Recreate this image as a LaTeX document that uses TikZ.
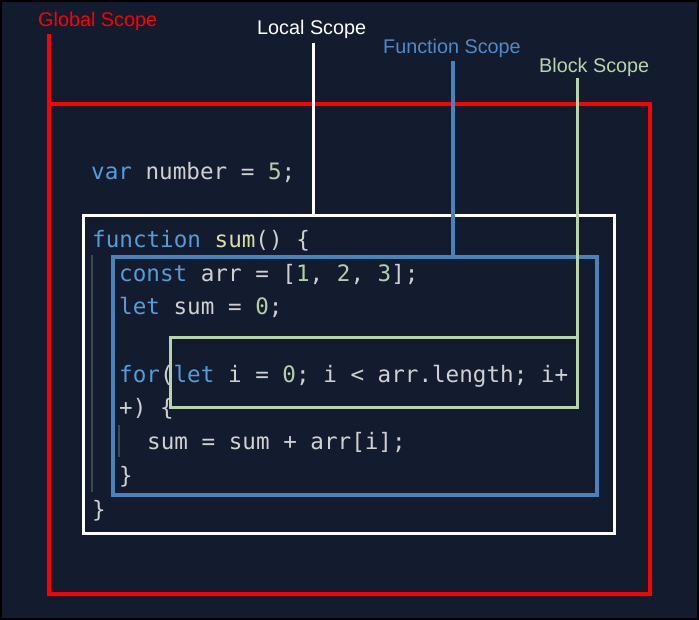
\documentclass[tikz,border=0pt]{standalone}
\usepackage{fontspec}
\setmainfont{Liberation Sans}
\setmonofont{DejaVu Sans Mono}
\definecolor{bg}{HTML}{131B2F}
\definecolor{kw}{HTML}{569CD6}
\definecolor{tx}{HTML}{D0D0D0}
\definecolor{fn}{HTML}{DCDCAA}
\definecolor{nm}{HTML}{B5CEA8}
\definecolor{gscope}{HTML}{FF0000}
\definecolor{fscope}{HTML}{4A82BC}
\definecolor{fscopelbl}{HTML}{4D8BC8}
\definecolor{bscope}{HTML}{B8D4A8}
\definecolor{guide}{HTML}{404652}
\newcommand{\kwd}[1]{\textcolor{kw}{#1}}
\newcommand{\fnm}[1]{\textcolor{fn}{#1}}
\newcommand{\num}[1]{\textcolor{nm}{#1}}
\tikzset{
  codeline/.style={anchor=base west, inner sep=0pt, text=tx, font=\fontsize{22.6}{26}\selectfont\ttfamily},
  lbl/.style={anchor=base west, inner sep=0pt, font=\fontsize{19.8}{23}\selectfont},
  indentguide/.style={draw=guide, line width=1.2pt},
  scopebox/.style={line width=3.2pt},
}
\begin{document}
\begin{tikzpicture}[x=1pt,y=-1pt]
\useasboundingbox (0,0) rectangle (699,620);
\fill[black] (0,0) rectangle (699,620);
\fill[bg] (2,2) rectangle (697,618);
\frenchspacing
% code
\node[codeline] (l0) at (91,179.5) {\kwd{var} number = \num{5};};
\node[codeline] (l1) at (92,247.5) {\kwd{function} \fnm{sum}() \{};
\node[codeline] (l2) at (119,281.5) {\kwd{const} arr = [\num{1}, \num{2}, \num{3}];};
\node[codeline] (l3) at (119,314.5) {\kwd{let} sum = \num{0};};
\node[codeline] (l4) at (119,382.5) {\kwd{for}(\kwd{let} i = \num{0}; i < arr.length; i+};
\node[codeline] (l5) at (119,415.5) {+) \{};
\node[codeline] (l6) at (147,449.5) {sum = sum + arr[i];};
\node[codeline] (l7) at (119,483.5) {\}};
\node[codeline] (l8) at (92,517.5) {\}};
% indent guides
\draw[indentguide] (92,255) -- (92,492);
\draw[indentguide] (119,425) -- (119,457);
% scope boxes
\coordinate (gtop) at (49,34);
\draw[scopebox, gscope, line width=3.5pt, line join=miter] (gtop) -- (49,594) -- (650,594) -- (650,104) -- (47.25,104);
\draw[scopebox, white, line width=3pt] (83,216) rectangle (614,533);
\draw[scopebox, fscope] (113,257) rectangle (597,495);
\draw[scopebox, bscope, line width=3pt] (170,338) rectangle (577,407);
% labels
\node[lbl, text=gscope] (gl) at (38,26.5) {Global Scope};
\node[lbl, text=white] (ll) at (257,35) {Local Scope};
\node[lbl, text=fscopelbl] (fl) at (383,54) {Function Scope};
\node[lbl, text=bscope] (bl) at (539,72.5) {Block Scope};
% leader lines
\coordinate (ltop) at (313,43);
\coordinate (lbot) at (313,216);
\coordinate (ftop) at (453,61);
\coordinate (fbot) at (453,257);
\coordinate (btop) at (577,78);
\coordinate (bbot) at (577,338);
\draw[white, line width=3pt] (ltop) -- (lbot);
\draw[fscope, line width=3.2pt] (ftop) -- (fbot);
\draw[bscope, line width=3pt] (btop) -- (bbot);
\end{tikzpicture}
\end{document}
